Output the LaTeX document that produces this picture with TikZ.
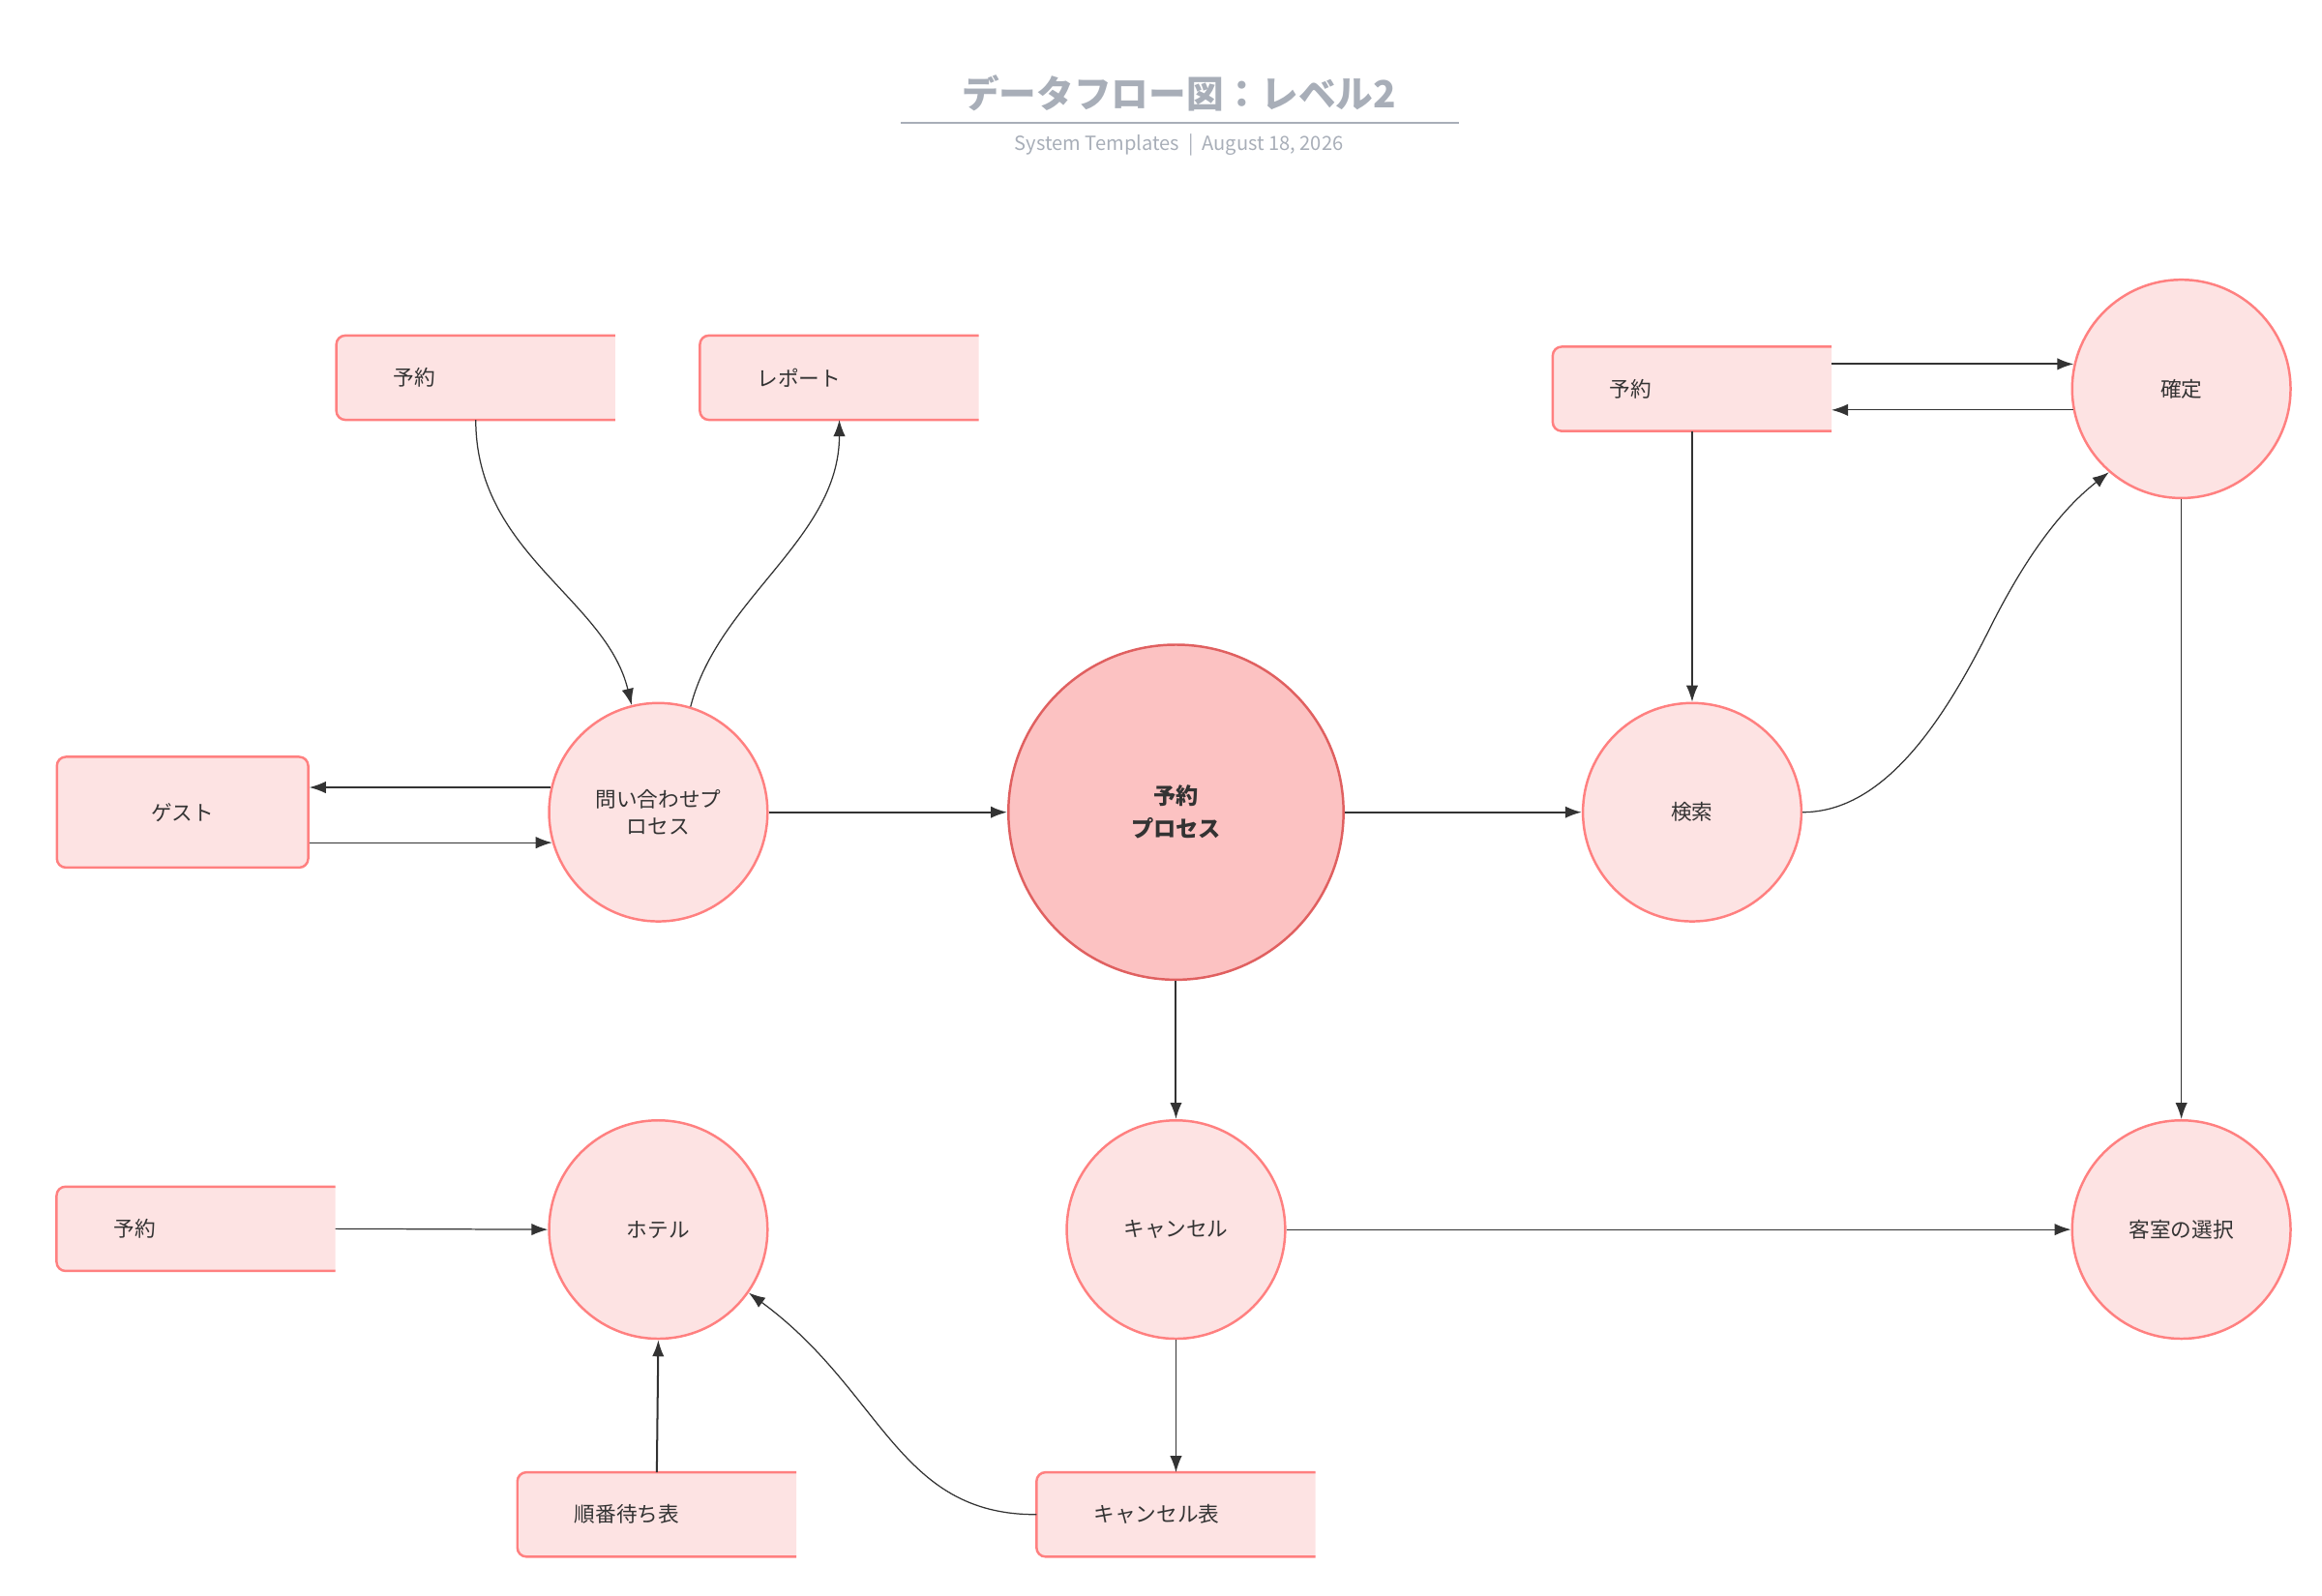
\documentclass[tikz,border=0pt]{standalone}
\usepackage{fontspec}
\setmainfont{Noto Sans CJK JP}
\usetikzlibrary{arrows.meta}
\definecolor{pfill}{HTML}{FDE3E3}
\definecolor{pline}{HTML}{FF8080}
\definecolor{mfill}{HTML}{FCC2C2}
\definecolor{mline}{HTML}{E06060}
\definecolor{tgray}{HTML}{A8AEB8}
\definecolor{ink}{HTML}{333333}
\tikzset{
  proc/.style={circle, fill=pfill, draw=pline, line width=1.6pt, minimum size=146pt, inner sep=0pt, font=\fontsize{14}{18}\selectfont, text=ink, align=center},
  mainproc/.style={proc, fill=mfill, draw=mline, minimum size=224pt, font=\fontsize{15}{22}\selectfont\bfseries},
  store/.style={rectangle, minimum width=186pt, minimum height=56pt, text width=110pt, inner xsep=38pt, inner ysep=0pt, align=left, font=\fontsize{14}{18}\selectfont, text=ink},
  flow/.style={draw=ink, line width=0.8pt, -{Latex[length=11pt,width=8pt]}},
  flowb/.style={flow, line width=1.3pt}
}
\newcommand{\openstore}[1]{%
  \fill[pfill] (#1.north east) [rounded corners=6pt] -- (#1.north west) -- (#1.south west) [sharp corners] -- (#1.south east) -- cycle;
  \draw[pline, line width=1.6pt, rounded corners=6pt] (#1.north east) -- (#1.north west) -- (#1.south west) -- (#1.south east);}
\begin{document}
\begin{tikzpicture}[x=1pt,y=-1pt]
\useasboundingbox (0,0) rectangle (1552,1067);
% title
\node (title) at (788,62) {\fontsize{25}{30}\selectfont\bfseries\color{tgray}データフロー図：レベル2};
\draw[tgray, line width=1.6pt] (602,82) -- (975,82);
\node (sub) at (788,97) {\fontsize{13}{16}\selectfont\color{tgray}System Templates \ | \ August 18, 2026};
% stores
\node[store] (s1) at (318,252.5) {予約};
\node[store] (rep) at (561,252.5) {レポート};
\node[store] (s2) at (1131,260) {予約};
\node[store] (s3) at (131,821.5) {予約};
\node[store] (wait) at (439,1012.5) {順番待ち表};
\node[store] (ctbl) at (786,1012.5) {キャンセル表};
\foreach \n in {s1,rep,s2,s3,wait,ctbl} {\openstore{\n}}
\node[store] at (318,252.5) {予約};
\node[store] at (561,252.5) {レポート};
\node[store] at (1131,260) {予約};
\node[store] at (131,821.5) {予約};
\node[store] at (439,1012.5) {順番待ち表};
\node[store] at (786,1012.5) {キャンセル表};
\node[rectangle, rounded corners=6pt, fill=pfill, draw=pline, line width=1.6pt, minimum width=168pt, minimum height=74pt, font=\fontsize{14}{18}\selectfont, text=ink] (guest) at (122,543) {ゲスト};
% processes
\node[proc] (inq) at (440,543) {問い合わせプ\\ロセス};
\node[mainproc] (main) at (786,543) {予約\\プロセス};
\node[proc] (search) at (1131,543) {検索};
\node[proc] (conf) at (1458,260) {確定};
\node[proc] (hotel) at (440,822) {ホテル};
\node[proc] (cancel) at (786,822) {キャンセル};
\node[proc] (room) at (1458,822) {客室の選択};
% flows
\draw[flow] (s1.south) .. controls (318,370) and (405,400) .. (inq.104);
\draw[flow] (inq.73) .. controls (480,400) and (561,360) .. (rep.south);
\draw[flow] (inq.167) -- (guest.east |- inq.167);
\draw[flow] (guest.east |- inq.196) -- (inq.196);
\draw[flowb] (inq.east) -- (main.west);
\draw[flowb] (main.east) -- (search.west);
\draw[flow] (s2.south) -- (search.north);
\draw[flow] (search.east) .. controls (1260,543) and (1300,480) .. (1330,420) .. controls (1360,360) and (1385,335) .. (conf.229);
\draw[flowb] (s2.east |- conf.167) -- (conf.167);
\draw[flow] (conf.191) -- (s2.east |- conf.191);
\draw[flow] (conf.south) -- (room.north);
\draw[flowb] (main.south) -- (cancel.north);
\draw[flow] (cancel.east) -- (room.west);
\draw[flow] (cancel.south) -- (ctbl.north);
\draw[flow] (s3.east) -- (hotel.west);
\draw[flowb] (wait.north) -- (hotel.south);
\draw[flow] (ctbl.west) .. controls (600,1013) and (590,930) .. (hotel.325);
\end{tikzpicture}
\end{document}
